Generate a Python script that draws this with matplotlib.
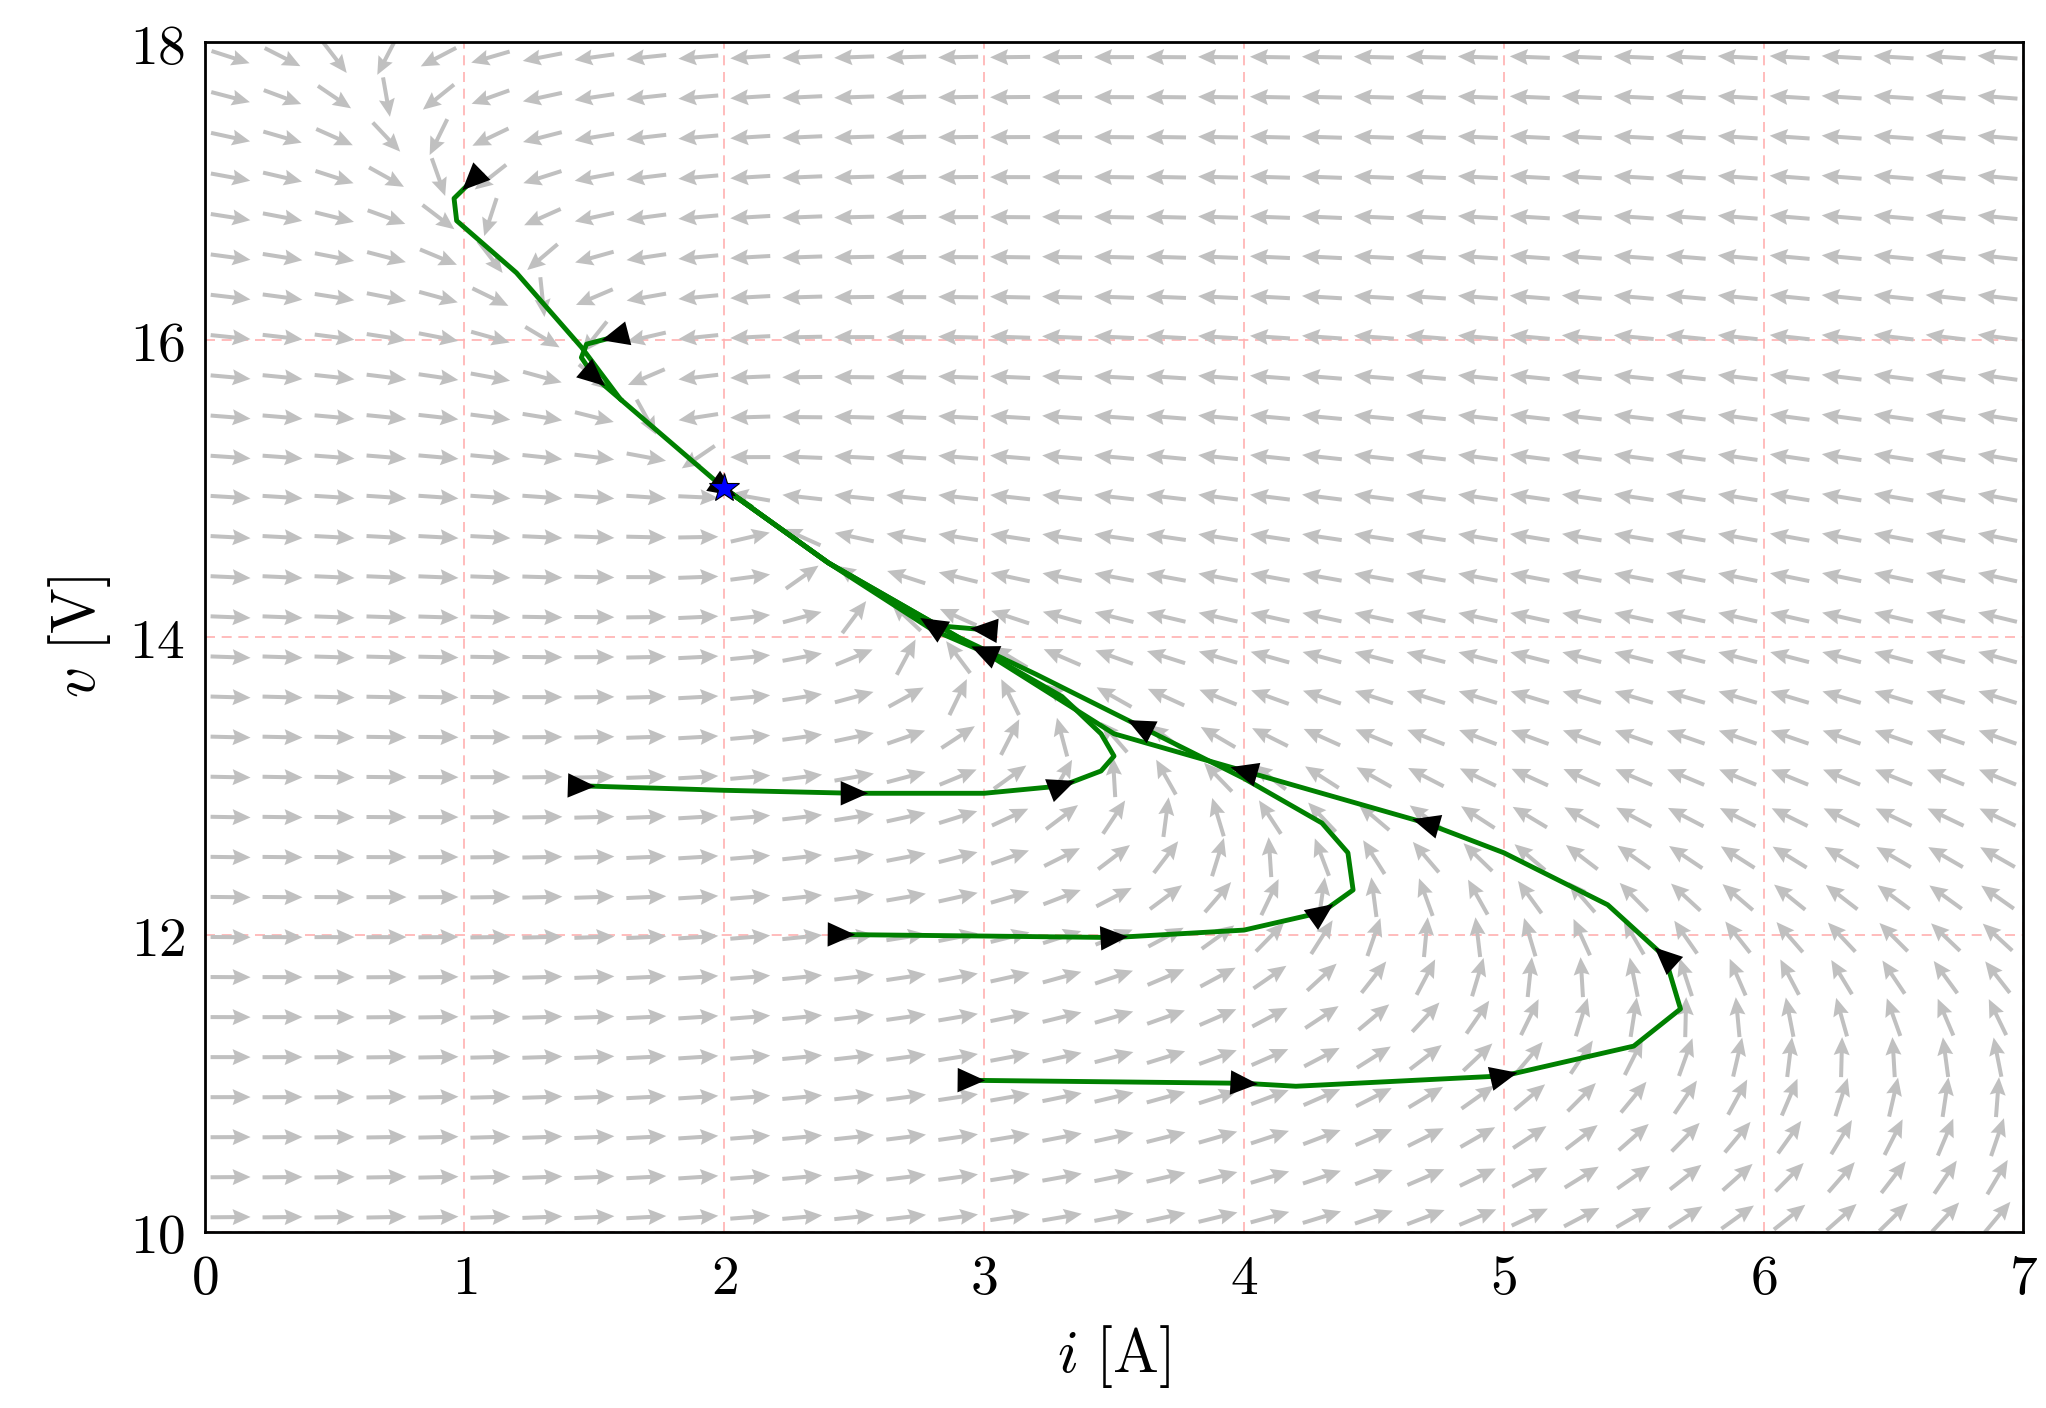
import numpy as np
import matplotlib
matplotlib.use("Agg")
import matplotlib.pyplot as plt

plt.rcParams['mathtext.fontset'] = 'cm'
plt.rcParams['font.family'] = 'serif'
plt.rcParams['font.serif'] = ['DejaVu Serif']

# trajectories (i [A], v [V])
traj_a_i = [1.45, 2.0, 2.5, 3.0, 3.3, 3.45, 3.5, 3.45, 3.3, 3.0, 2.8, 2.4, 2.0]
traj_a_v = [13.0, 12.97, 12.95, 12.95, 13.0, 13.1, 13.2, 13.35, 13.6, 13.9, 14.05, 14.5, 15.0]
traj_b_i = [2.45, 3.0, 3.5, 4.0, 4.3, 4.42, 4.4, 4.3, 4.0, 3.6, 3.2, 2.9, 2.4, 2.0]
traj_b_v = [12.0, 11.99, 11.98, 12.03, 12.15, 12.3, 12.55, 12.75, 13.05, 13.4, 13.75, 14.0, 14.5, 15.0]
traj_c_i = [2.95, 4.0, 4.2, 5.0, 5.5, 5.68, 5.62, 5.4, 5.0, 4.7, 4.0, 3.5, 3.0, 2.4, 2.0]
traj_c_v = [11.02, 11.0, 10.98, 11.05, 11.25, 11.5, 11.85, 12.2, 12.55, 12.75, 13.1, 13.35, 13.9, 14.5, 15.0]
traj_d_i = [1.03, 0.96, 0.97, 1.2, 1.45, 1.6, 1.8, 2.0, 2.1]
traj_d_v = [17.07, 16.95, 16.8, 16.45, 15.95, 15.6, 15.3, 15.0, 14.88]
traj_e_i = [1.58, 1.47, 1.45, 1.5, 1.6]
traj_e_v = [16.02, 15.97, 15.88, 15.75, 15.6]
traj_f_i = [3.0, 2.8, 2.4, 2.0]
traj_f_v = [14.05, 14.08, 14.5, 15.0]
# arrowhead positions: segment index in each trajectory
heads_a = [0, 2, 4, 9]
heads_b = [0, 2, 4, 9]
heads_c = [0, 1, 3, 6, 9, 10]
heads_d = [0, 7]
heads_e = [0, 3]
heads_f = [0, 1]
eq_i, eq_v = 2.0, 15.0


def field(i, v):
    g = 10 + 9.71 * np.exp(-0.332 * i)
    di = 4.0 * (g - v)
    dv = (i - eq_i) + 0.5 * (eq_v - v)
    return di, dv


W, H = 0.889 * 2046, 0.845 * 1408   # axes size in pixels
fig = plt.figure(figsize=(20.46, 14.08), dpi=100)
ax = fig.add_axes([0.1, 0.125, 0.889, 0.845])
ax.set_xlim(0, 7)
ax.set_ylim(10, 18)

gi, gv = np.meshgrid(np.linspace(0.1, 6.9, 35), np.linspace(10.1, 17.9, 30))
di, dv = field(gi, gv)
px, py = di * W / 7, dv * H / 8
n = np.hypot(px, py)
ell = 40.0
ax.quiver(gi - 0.5 * ell * px / n / (W / 7), gv - 0.5 * ell * py / n / (H / 8),
          ell * px / n / (W / 7), ell * py / n / (H / 8),
          color='#c0c0c0', angles='xy', scale_units='xy', scale=1,
          width=0.0022, headwidth=4, headlength=4.5, headaxislength=4, zorder=1)

for xs, ys, hs in [(traj_a_i, traj_a_v, heads_a), (traj_b_i, traj_b_v, heads_b),
                   (traj_c_i, traj_c_v, heads_c), (traj_d_i, traj_d_v, heads_d),
                   (traj_e_i, traj_e_v, heads_e), (traj_f_i, traj_f_v, heads_f)]:
    ax.plot(xs, ys, color='green', lw=3.5, zorder=3)
    for k in hs:
        x0, y0 = xs[k], ys[k]
        x1, y1 = xs[k + 1], ys[k + 1]
        qx, qy = (x1 - x0) * W / 7, (y1 - y0) * H / 8
        m = np.hypot(qx, qy)
        xe = x0 + 14 * qx / m / (W / 7)
        ye = y0 + 14 * qy / m / (H / 8)
        ax.annotate('', xy=(xe, ye), xytext=(x0, y0),
                    arrowprops=dict(arrowstyle='-|>,head_length=0.9,head_width=0.4',
                                    mutation_scale=22, color='black', lw=0,
                                    shrinkA=0, shrinkB=0),
                    zorder=5)

ax.plot([eq_i], [eq_v], marker='*', ms=22, color='blue', mec='black', mew=0.8, zorder=6)

ax.grid(True, color='#ffb0b0', ls=(0, (6, 4)), lw=1.2)
ax.set_axisbelow(True)
ax.set_xticks(range(0, 8))
ax.set_yticks([10, 12, 14, 16, 18])
ax.tick_params(labelsize=40, direction='in', length=0, pad=14)
for s in ax.spines.values():
    s.set_linewidth(2)
ax.set_xlabel(r'$i\ [\mathrm{A}]$', fontsize=44, labelpad=12)
ax.set_ylabel(r'$v\ [\mathrm{V}]$', fontsize=44, labelpad=12)
fmt = matplotlib.ticker.FuncFormatter(lambda x, p: f'${int(x)}$')
ax.xaxis.set_major_formatter(fmt)
ax.yaxis.set_major_formatter(fmt)

fig.savefig('out.png', dpi=100)
